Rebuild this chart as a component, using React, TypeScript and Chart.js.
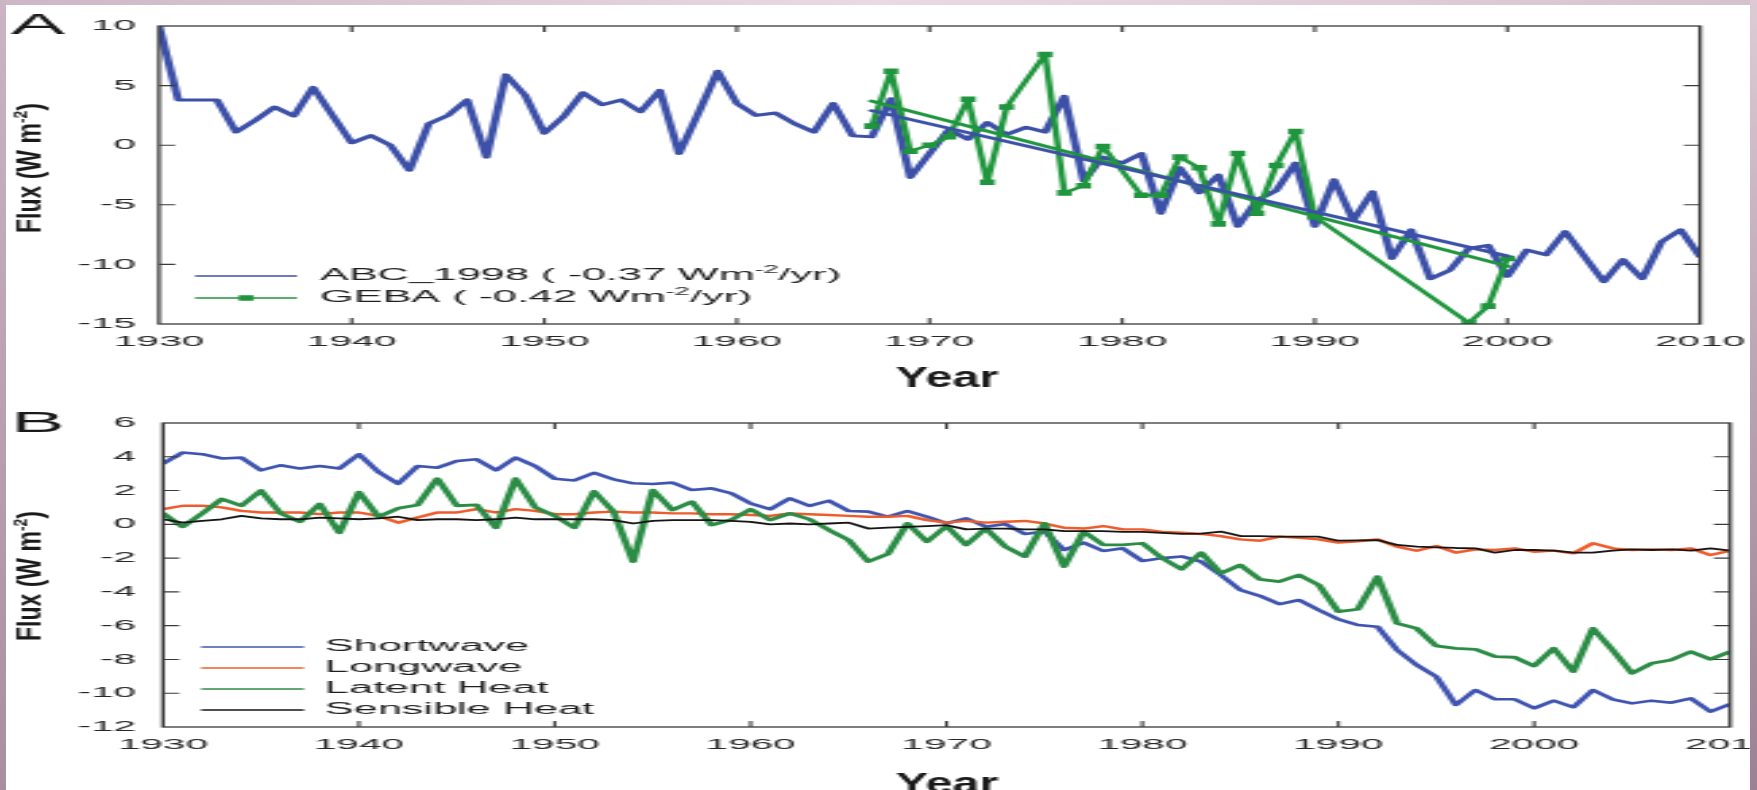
import { useEffect, useRef } from "react";
import { Chart, registerables } from "chart.js";

Chart.register(...registerables);

// ---------------- data ----------------
const YEARS = [
  1930, 1931, 1932, 1933, 1934, 1935, 1936, 1937, 1938, 1939,
  1940, 1941, 1942, 1943, 1944, 1945, 1946, 1947, 1948, 1949,
  1950, 1951, 1952, 1953, 1954, 1955, 1956, 1957, 1958, 1959,
  1960, 1961, 1962, 1963, 1964, 1965, 1966, 1967, 1968, 1969,
  1970, 1971, 1972, 1973, 1974, 1975, 1976, 1977, 1978, 1979,
  1980, 1981, 1982, 1983, 1984, 1985, 1986, 1987, 1988, 1989,
  1990, 1991, 1992, 1993, 1994, 1995, 1996, 1997, 1998, 1999,
  2000, 2001, 2002, 2003, 2004, 2005, 2006, 2007, 2008, 2009,
  2010,
];

const ABC_1998 = [
  10.0, 3.8, 3.8, 3.8, 1.1, 2.1, 3.2, 2.45, 4.85, 2.5,
  0.2, 0.8, 0.0, -2.1, 1.8, 2.5, 3.8, -1.0, 5.9, 4.2,
  1.0, 2.4, 4.4, 3.4, 3.8, 2.8, 4.6, -0.7, 2.7, 6.2,
  3.5, 2.5, 2.7, 1.8, 1.1, 3.5, 0.8, 0.7, 3.9, -2.7,
  -0.7, 1.3, 0.5, 1.9, 0.9, 1.5, 1.1, 4.1, -3.0, -1.0,
  -1.5, -0.7, -5.7, -1.9, -4.0, -2.5, -6.8, -4.6, -3.8, -1.5,
  -6.8, -2.9, -6.3, -3.9, -9.5, -7.1, -11.2, -10.5, -8.65, -8.4,
  -11.0, -8.8, -9.2, -7.25, -9.35, -11.45, -9.6, -11.2, -8.1, -7.1,
  -9.35,
];

const GEBA_YEARS = [
  1967, 1968, 1969, 1970, 1971, 1972, 1973, 1974, 1976, 1977,
  1978, 1979, 1981, 1982, 1983, 1984, 1985, 1986, 1987, 1988,
  1989, 1990, 1998, 1999, 2000,
];
const GEBA = [
  1.6, 6.2, -0.5, 0.0, 0.7, 3.85, -3.1, 3.2, 7.6, -4.0,
  -3.4, -0.1, -4.2, -4.2, -1.0, -1.9, -6.6, -0.7, -5.7, -1.7,
  1.15, -6.0, -14.9, -13.5, -9.5,
];

const TREND_YEARS = [1967, 2000];
const ABC_TREND = [2.9, -9.3];
const GEBA_TREND = [3.7, -10.15];

const SHORTWAVE = [
  3.6, 4.25, 4.15, 3.9, 3.95, 3.2, 3.5, 3.3, 3.45, 3.3,
  4.15, 3.1, 2.4, 3.45, 3.35, 3.75, 3.85, 3.2, 3.95, 3.45,
  2.7, 2.6, 3.05, 2.66, 2.43, 2.39, 2.47, 2.03, 2.13, 1.84,
  1.24, 0.89, 1.54, 1.09, 1.4, 0.79, 0.75, 0.45, 0.79, 0.45,
  0.06, 0.36, -0.14, 0.02, -0.57, -0.43, -1.52, -1.08, -1.58, -1.42,
  -2.17, -2.0, -1.9, -2.21, -3.0, -3.89, -4.24, -4.72, -4.48, -5.07,
  -5.62, -5.96, -6.06, -7.44, -8.33, -9.02, -10.7, -9.81, -10.36, -10.36,
  -10.89, -10.44, -10.83, -9.81, -10.36, -10.6, -10.44, -10.56, -10.3, -11.09,
  -10.64,
];

const LONGWAVE = [
  0.9, 1.1, 1.1, 1.0, 0.8, 0.7, 0.7, 0.7, 0.6, 0.7,
  0.7, 0.5, 0.1, 0.4, 0.7, 0.7, 0.9, 0.7, 0.9, 0.8,
  0.6, 0.6, 0.7, 0.75, 0.7, 0.7, 0.65, 0.65, 0.6, 0.6,
  0.55, 0.5, 0.65, 0.6, 0.55, 0.5, 0.45, 0.45, 0.5, 0.25,
  0.1, 0.2, 0.1, 0.15, 0.2, 0.05, -0.2, -0.25, -0.1, -0.3,
  -0.3, -0.45, -0.5, -0.57, -0.7, -0.89, -0.97, -0.73, -0.8, -0.89,
  -1.08, -1.0, -0.89, -1.32, -1.56, -1.28, -1.68, -1.48, -1.52, -1.42,
  -1.62, -1.56, -1.72, -1.12, -1.42, -1.52, -1.48, -1.52, -1.42, -1.82,
  -1.56,
];

const LATENT_HEAT = [
  0.65, -0.15, 0.65, 1.5, 1.1, 2.0, 0.65, 0.15, 1.2, -0.5,
  1.9, 0.45, 0.95, 1.15, 2.7, 1.1, 1.15, -0.2, 2.7, 1.0,
  0.5, -0.2, 1.95, 0.75, -2.21, 2.03, 0.85, 1.34, -0.04, 0.26,
  0.89, 0.26, 0.65, 0.3, -0.34, -0.93, -2.21, -1.76, 0.06, -1.03,
  -0.1, -1.22, -0.24, -1.32, -1.91, 0.06, -2.5, -0.43, -1.22, -1.22,
  -1.12, -2.0, -2.66, -1.68, -2.9, -2.41, -3.26, -3.39, -3.0, -3.59,
  -5.17, -5.03, -3.1, -5.86, -6.16, -7.2, -7.34, -7.4, -7.83, -7.87,
  -8.39, -7.34, -8.72, -6.16, -7.44, -8.82, -8.23, -8.03, -7.54, -7.99,
  -7.54,
];

const SENSIBLE_HEAT = [
  0.3, 0.1, 0.2, 0.3, 0.5, 0.35, 0.3, 0.3, 0.4, 0.35,
  0.3, 0.35, 0.45, 0.25, 0.3, 0.3, 0.25, 0.3, 0.4, 0.3,
  0.3, 0.3, 0.3, 0.25, 0.05, 0.2, 0.25, 0.25, 0.25, 0.2,
  0.15, 0.0, 0.05, 0.0, 0.05, 0.1, -0.25, -0.2, -0.15, -0.1,
  -0.05, -0.3, -0.25, -0.25, -0.3, -0.3, -0.4, -0.4, -0.4, -0.45,
  -0.45, -0.5, -0.57, -0.55, -0.43, -0.69, -0.7, -0.73, -0.73, -0.73,
  -0.97, -0.95, -0.93, -1.22, -1.32, -1.36, -1.4, -1.42, -1.68, -1.52,
  -1.52, -1.56, -1.68, -1.68, -1.56, -1.48, -1.52, -1.48, -1.56, -1.42,
  -1.56,
];

const X_TICKS = [1930, 1940, 1950, 1960, 1970, 1980, 1990, 2000, 2010];
const A_Y_TICKS = [-15, -10, -5, 0, 5, 10];
const B_Y_TICKS = [-12, -10, -8, -6, -4, -2, 0, 2, 4, 6];

// ---------------- look ----------------
const FONT = '"Liberation Sans", Arial, Helvetica, sans-serif';
const S = 2.7; // horizontal stretch of the whole picture
const CW = 680; // internal canvas width
const CH = 395; // canvas height
const TICK_COLOR = "#262626";
const FRAME = "#3a3a3a";
const TL = 6;

const pts = (xs: number[], ys: number[]) => xs.map((x, i) => ({ x, y: ys[i] }));

function drawRich(
  ctx: CanvasRenderingContext2D,
  text: string,
  x: number,
  y: number,
  size: number,
  weight: string,
  align: "left" | "center",
  supSize: number,
  raise: number
) {
  const parts = text.split(/\^\{([^}]*)\}/);
  const segs = parts.map((t, i) => ({ t, sup: i % 2 === 1 }));
  const fontOf = (sup: boolean) => `${weight} ${sup ? supSize : size}px ${FONT}`;
  let total = 0;
  for (const s of segs) {
    ctx.font = fontOf(s.sup);
    total += ctx.measureText(s.t).width;
  }
  let cx = align === "center" ? x - total / 2 : x;
  ctx.textAlign = "left";
  for (const s of segs) {
    ctx.font = fontOf(s.sup);
    ctx.fillText(s.t, cx, s.sup ? y - raise : y);
    cx += ctx.measureText(s.t).width;
  }
}

type Decor = {
  letter: string;
  letterBaseline: number;
  yLabel: string;
  yLabelY: number;
  xLabel: string;
  xLabelBaseline: number;
  legend: number[];
  legendY0: number;
  legendDy: number;
  legendX0: number;
  legendX1: number;
  legendTextX: number;
};

function decorPlugin(cfg: Decor) {
  return {
    id: "decor",
    afterDatasetsDraw(chart: any) {
      const ctx: CanvasRenderingContext2D = chart.ctx;
      const a = chart.chartArea;
      const xs = chart.scales.x;
      const ys = chart.scales.y;
      ctx.save();
      // frame + inward ticks
      ctx.strokeStyle = FRAME;
      ctx.lineWidth = 1.3;
      ctx.strokeRect(a.left, a.top, a.right - a.left, a.bottom - a.top);
      ctx.lineWidth = 1.1;
      ctx.beginPath();
      for (const t of xs.ticks) {
        const p = xs.getPixelForValue(t.value);
        if (p <= a.left + 1 || p >= a.right - 1) continue;
        ctx.moveTo(p, a.bottom);
        ctx.lineTo(p, a.bottom - TL);
        ctx.moveTo(p, a.top);
        ctx.lineTo(p, a.top + TL);
      }
      for (const t of ys.ticks) {
        const p = ys.getPixelForValue(t.value);
        if (p <= a.top + 1 || p >= a.bottom - 1) continue;
        ctx.moveTo(a.left, p);
        ctx.lineTo(a.left + TL, p);
        ctx.moveTo(a.right, p);
        ctx.lineTo(a.right - TL, p);
      }
      ctx.stroke();

      // legend
      ctx.textBaseline = "middle";
      cfg.legend.forEach((idx, k) => {
        const ds = chart.data.datasets[idx];
        const y = cfg.legendY0 + k * cfg.legendDy;
        ctx.strokeStyle = ds.borderColor;
        ctx.lineWidth = 1.7;
        ctx.beginPath();
        ctx.moveTo(cfg.legendX0, y);
        ctx.lineTo(cfg.legendX1, y);
        ctx.stroke();
        if (ds.pointStyle === "rect" && ds.pointRadius > 0) {
          const h = Math.SQRT1_2 * ds.pointRadius;
          ctx.fillStyle = ds.borderColor;
          ctx.fillRect((cfg.legendX0 + cfg.legendX1) / 2 - h, y - h, 2 * h, 2 * h);
        }
        ctx.fillStyle = "#1e1e1e";
        drawRich(ctx, ds.label, cfg.legendTextX, y, 16, "normal", "left", 10, 6);
      });

      // panel letter
      ctx.fillStyle = "#1a1a1a";
      ctx.textBaseline = "alphabetic";
      ctx.textAlign = "left";
      ctx.font = `normal 30px ${FONT}`;
      ctx.fillText(cfg.letter, 11 / S, cfg.letterBaseline);

      // x axis title (bold, narrow)
      ctx.save();
      ctx.translate(947 / S, cfg.xLabelBaseline);
      ctx.scale(0.6, 1);
      drawRich(ctx, cfg.xLabel, 0, 0, 30, "bold", "center", 18, 10);
      ctx.restore();

      // y axis title (rotated, narrow)
      ctx.save();
      ctx.translate(32 / S, cfg.yLabelY);
      ctx.rotate(-Math.PI / 2);
      ctx.scale(1, 0.53);
      ctx.textBaseline = "middle";
      drawRich(ctx, cfg.yLabel, 0, 0, 23, "bold", "center", 14, 8);
      ctx.restore();

      ctx.restore();
    },
  };
}

function xScale(height: number) {
  return {
    type: "linear",
    min: 1930,
    max: 2010,
    afterBuildTicks: (s: any) => {
      s.ticks = X_TICKS.map((v) => ({ value: v }));
    },
    ticks: {
      callback: (v: any) => String(v),
      padding: 9,
      font: { family: FONT, size: 15 },
      color: TICK_COLOR,
      maxRotation: 0,
      autoSkip: false,
    },
    grid: { display: false, drawTicks: false },
    border: { display: false },
    afterFit: (s: any) => {
      s.height = height;
      s.paddingLeft = 0;
      s.paddingRight = 0;
    },
  };
}

function yScale(min: number, max: number, ticks: number[], width: number, pad: number) {
  return {
    type: "linear",
    min,
    max,
    afterBuildTicks: (s: any) => {
      s.ticks = ticks.map((v) => ({ value: v }));
    },
    ticks: {
      callback: (v: any) => String(v),
      padding: pad,
      font: { family: FONT, size: 15 },
      color: TICK_COLOR,
      autoSkip: false,
    },
    grid: { display: false, drawTicks: false },
    border: { display: false },
    afterFit: (s: any) => {
      s.width = width;
      s.paddingTop = 0;
      s.paddingBottom = 0;
    },
  };
}

const lineDefaults = {
  tension: 0,
  pointRadius: 0,
  fill: false,
  borderJoinStyle: "round",
  borderCapStyle: "round",
};

export default function App() {
  const refA = useRef<HTMLCanvasElement | null>(null);
  const refB = useRef<HTMLCanvasElement | null>(null);

  useEffect(() => {
    const chartA = new Chart(refA.current as HTMLCanvasElement, {
      type: "line",
      data: {
        datasets: [
          {
            ...lineDefaults,
            label: "ABC_1998 ( -0.37 Wm^{-2}/yr)",
            data: pts(YEARS, ABC_1998),
            borderColor: "#3c50a8",
            borderWidth: 3,
            order: 4,
          },
          {
            ...lineDefaults,
            label: "GEBA ( -0.42 Wm^{-2}/yr)",
            data: pts(GEBA_YEARS, GEBA),
            borderColor: "#1f953d",
            borderWidth: 2.4,
            pointStyle: "rect",
            pointRadius: 3.9,
            pointBackgroundColor: "#1f953d",
            pointBorderWidth: 0,
            order: 3,
          },
          {
            ...lineDefaults,
            label: "ABC_1998 trend",
            data: pts(TREND_YEARS, ABC_TREND),
            borderColor: "#3c50a8",
            borderWidth: 2.8,
            order: 1,
          },
          {
            ...lineDefaults,
            label: "GEBA trend",
            data: pts(TREND_YEARS, GEBA_TREND),
            borderColor: "#1f953d",
            borderWidth: 2.8,
            order: 2,
          },
        ],
      },
      options: {
        responsive: false,
        animation: false,
        events: [],
        layout: { padding: { left: 0, right: CW - 1700 / S, top: 26, bottom: 0 } },
        plugins: { legend: { display: false }, tooltip: { enabled: false } },
        scales: {
          x: xScale(CH - 324),
          y: yScale(-15, 10, A_Y_TICKS, 159 / S, 8.5),
        },
      } as any,
      plugins: [
        decorPlugin({
          letter: "A",
          letterBaseline: 34,
          yLabel: "Flux (W m^{-2})",
          yLabelY: 168,
          xLabel: "Year",
          xLabelBaseline: 387,
          legend: [0, 1],
          legendY0: 276,
          legendDy: 22,
          legendX0: 195 / S,
          legendX1: 297 / S,
          legendTextX: 320 / S,
        }),
      ],
    });

    const chartB = new Chart(refB.current as HTMLCanvasElement, {
      type: "line",
      data: {
        datasets: [
          {
            ...lineDefaults,
            label: "Shortwave",
            data: pts(YEARS, SHORTWAVE),
            borderColor: "#3e54b0",
            borderWidth: 2.6,
            order: 4,
          },
          {
            ...lineDefaults,
            label: "Longwave",
            data: pts(YEARS, LONGWAVE),
            borderColor: "#ef5b2b",
            borderWidth: 2.4,
            order: 3,
          },
          {
            ...lineDefaults,
            label: "Latent Heat",
            data: pts(YEARS, LATENT_HEAT),
            borderColor: "#2b8c45",
            borderWidth: 2.8,
            order: 2,
          },
          {
            ...lineDefaults,
            label: "Sensible Heat",
            data: pts(YEARS, SENSIBLE_HEAT),
            borderColor: "#151515",
            borderWidth: 1.8,
            order: 1,
          },
        ],
      },
      options: {
        responsive: false,
        animation: false,
        events: [],
        layout: { padding: { left: 0, right: CW - 1730 / S, top: 28, bottom: 0 } },
        plugins: { legend: { display: false }, tooltip: { enabled: false } },
        scales: {
          x: xScale(CH - 332),
          y: yScale(-12, 6, B_Y_TICKS, 163 / S, 10),
        },
      } as any,
      plugins: [
        decorPlugin({
          letter: "B",
          letterBaseline: 37,
          yLabel: "Flux (W m^{-2})",
          yLabelY: 181,
          xLabel: "Year",
          xLabelBaseline: 398,
          legend: [0, 1, 2, 3],
          legendY0: 252,
          legendDy: 21,
          legendX0: 201 / S,
          legendX1: 304 / S,
          legendTextX: 325 / S,
        }),
      ],
    });

    return () => {
      chartA.destroy();
      chartB.destroy();
    };
  }, []);

  const canvasStyle = (top: number): React.CSSProperties => ({
    position: "absolute",
    left: 0,
    top,
    width: `${CW * S}px`,
    height: `${CH}px`,
    display: "block",
  });

  return (
    <div
      style={{
        position: "absolute",
        left: 0,
        top: 0,
        width: 1757,
        height: 790,
        overflow: "hidden",
        background: "#ffffff",
      }}
    >
      <canvas ref={refA} width={CW} height={CH} style={canvasStyle(0)} />
      <canvas ref={refB} width={CW} height={CH} style={canvasStyle(395)} />
      <div
        style={{
          position: "absolute",
          left: 0,
          top: 0,
          width: 1757,
          height: 5,
          background: "linear-gradient(to right, #cdb7c6, #ead9e3 50%, #d6c2cf)",
        }}
      />
      <div
        style={{
          position: "absolute",
          left: 0,
          top: 0,
          width: 6,
          height: 790,
          background: "linear-gradient(to bottom, #cbb4c3, #a88f9f)",
        }}
      />
      <div
        style={{
          position: "absolute",
          left: 1750,
          top: 0,
          width: 7,
          height: 790,
          background: "linear-gradient(to bottom, #dccbd5, #b9a2b1 50%, #9b8193)",
        }}
      />
    </div>
  );
}
